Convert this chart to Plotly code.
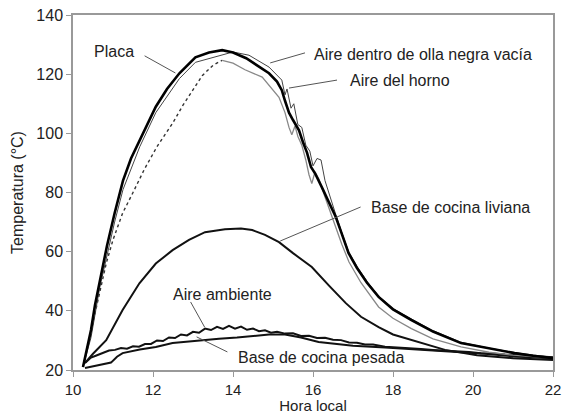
import plotly.graph_objects as go

# Placa (plate) temperature
hora_placa = [10.25, 10.3, 10.38, 10.45, 10.55, 10.67, 10.85, 11.04, 11.25, 11.45, 11.67, 11.87,
              12.07, 12.35, 12.66, 13.06, 13.4, 13.73, 14.0, 14.33, 14.6, 14.9, 15.1, 15.22, 15.3,
              15.4, 15.5, 15.65, 15.75, 15.85, 15.95, 16.05, 16.22, 16.4, 16.57, 16.72, 16.89, 17.1,
              17.35, 17.64, 18.0, 18.46, 19.0, 19.7, 20.4, 21.04, 21.5, 22.0]
temp_placa = [21, 24, 29, 33.5, 42, 50.5, 62, 73, 84, 91.5, 97.7, 103.5,
              109, 115, 120.3, 125.7, 127.3, 128.1, 127.3, 125.4, 123, 120.3, 117.5, 114.6, 111,
              107, 104.5, 101, 97, 93.5, 88.6, 86.5, 81.8, 76.5, 71.7, 66, 59.5, 54.5,
              49.5, 44.7, 40.5, 36.9, 33, 29.1, 27.2, 25.7, 24.8, 24]

# Air inside the empty black pot
hora_olla = [10.25, 10.45, 10.67, 11.04, 11.25, 11.67, 12.07, 12.66, 13.06, 13.73, 14.0, 14.4,
             14.9, 15.22, 15.3, 15.35, 15.45, 15.52, 15.62, 15.72, 15.82, 15.92, 16.0, 16.1,
             16.2, 16.3, 16.4, 16.57, 16.72, 16.89, 17.1, 17.35, 17.64, 18.0, 18.46, 19.0, 19.7,
             20.4, 21.04, 21.5, 22.0]
temp_olla = [21, 31, 48, 70, 81, 95.5, 107, 118.5, 124, 126.5, 127.5, 126.4,
             122.4, 118, 113, 115, 108.5, 110, 103, 102, 96, 94, 89, 91.5,
             91, 84, 79.5, 72.5, 66.5, 60, 55, 50, 45, 40.8, 37.2, 33.3, 29.4,
             27.4, 25.9, 25, 24.2]

# Oven air
hora_horno = [10.25, 10.4, 10.55, 10.67, 10.83, 11.0, 11.24, 11.5, 11.79, 12.1, 12.49, 12.75,
              12.99, 13.23, 13.5, 13.73, 14.0, 14.3, 14.73, 15.15, 15.3, 15.4, 15.47, 15.55,
              15.62, 15.72, 15.82, 15.9, 15.97, 16.05, 16.15, 16.3, 16.5, 16.72, 16.9, 17.2, 17.64,
              18.0, 18.46, 19.0, 19.7, 20.4, 21.0, 21.5, 22.0]
temp_horno = [21, 30, 40, 47, 56, 64, 73, 80, 88, 95.5, 103.4, 109.5,
              114.6, 119.5, 123, 124.7, 123.7, 121.5, 119, 112.2, 107, 102, 99.5, 102.5,
              99, 96, 91, 86, 83, 87, 84.5, 78.5, 71, 62.5, 56.5, 49.5, 41.3,
              37.5, 34, 30.5, 27.8, 26, 25, 24.5, 24]
pico_horno = 15  # index of the oven-air peak (dotted before, solid after)

# Light stove base
hora_liviana = [10.3, 10.5, 10.83, 11.0, 11.24, 11.66, 12.07, 12.49, 12.9, 13.3, 13.8, 14.2,
                14.48, 14.8, 15.15, 15.5, 15.97, 16.4, 16.82, 17.2, 17.64, 18.0, 18.46, 19.3,
                20.1, 21.0, 22.0]
temp_liviana = [22.4, 25.5, 30.1, 34.5, 40.3, 49.3, 56, 60.5, 64, 66.6, 67.6, 67.8,
                67.3, 65.7, 63.2, 59.5, 54.8, 48.5, 42.6, 38, 34.5, 32, 30.1, 26.8,
                25, 24, 23.4]

# Ambient air
hora_ambiente = [10.3, 10.45, 10.6, 10.75, 10.9, 11.05, 11.2, 11.35, 11.5, 11.65, 11.8, 11.95,
                 12.1, 12.25, 12.4, 12.55, 12.7, 12.85, 13.0, 13.15, 13.3, 13.45, 13.6, 13.75,
                 13.9, 14.05, 14.2, 14.35, 14.5, 14.65, 14.8, 14.95, 15.1, 15.3, 15.5, 15.7,
                 15.9, 16.1, 16.3, 16.5, 16.7, 16.9, 17.1, 17.3, 17.5, 17.8, 18.1, 18.4, 18.7,
                 19.0, 19.3, 19.6, 19.9, 20.2, 20.5, 20.8, 21.1, 21.4, 21.7, 22.0]
temp_ambiente = [22.4, 24.2, 25.0, 25.8, 26.6, 26.8, 27.4, 27.2, 28.0, 27.9, 28.8, 28.8,
                 30.0, 29.8, 31.0, 30.8, 32.0, 31.7, 32.9, 32.6, 34.0, 33.5, 34.6, 33.9,
                 34.9, 34.0, 34.7, 33.6, 34.0, 33.1, 33.4, 32.6, 32.9, 32.3, 32.4, 31.5,
                 31.6, 30.8, 30.9, 30.2, 30.1, 29.3, 29.2, 28.6, 28.6, 27.9, 27.7, 27.3, 27.1,
                 26.8, 26.6, 26.2, 26.1, 25.7, 25.6, 25.2, 25.1, 24.8, 24.6, 24.3]

# Heavy stove base
hora_pesada = [10.3, 10.6, 10.95, 11.1, 11.24, 11.67, 12.07, 12.49, 12.9, 13.3, 13.65, 14.1,
               14.48, 14.9, 15.3, 15.7, 16.14, 16.6, 17.0, 17.8, 18.5, 19.2, 19.7, 20.3, 21.0,
               21.5, 22.0]
temp_pesada = [20.7, 21.5, 22.5, 24.5, 25.7, 26.9, 27.8, 29.1, 29.7, 30.1, 30.6, 31,
               31.5, 32, 32, 31, 29.5, 28.7, 28.2, 27.6, 27, 26.5, 26.1, 25.5, 24.6,
               24.2, 24]

# Labels with their leader lines: (text, text x, text y, line start, line end)
etiquetas = [
    ("Placa", 11.02, 127.5, (11.79, 126.2), (12.56, 120.4)),
    ("Aire dentro de olla negra vacía", 18.74, 126.5, (15.8, 127.2), (14.93, 123.8)),
    ("Aire del horno", 18.17, 118.0, (16.6, 118.0), (15.4, 115.3)),
    ("Base de cocina liviana", 19.43, 74.8, (17.19, 75.1), (15.18, 63.6)),
    ("Aire ambiente", 13.73, 45.4, (12.94, 43.0), (13.29, 34.5)),
    ("Base de cocina pesada", 16.2, 24.1, (13.09, 31.2), (13.86, 26.1)),
]

FONT = "Liberation Sans, Arial, sans-serif"
TAM = 16

fig = go.Figure()

fig.add_trace(go.Scatter(x=hora_pesada, y=temp_pesada, mode="lines",
                         line=dict(color="#111", width=2), name="Base de cocina pesada"))
fig.add_trace(go.Scatter(x=hora_ambiente, y=temp_ambiente, mode="lines",
                         line=dict(color="#111", width=2), name="Aire ambiente"))
fig.add_trace(go.Scatter(x=hora_liviana, y=temp_liviana, mode="lines",
                         line=dict(color="#111", width=2), name="Base de cocina liviana"))
fig.add_trace(go.Scatter(x=hora_horno[:pico_horno + 1], y=temp_horno[:pico_horno + 1], mode="lines",
                         line=dict(color="#333", width=1.4, dash="dot"), name="Aire del horno"))
fig.add_trace(go.Scatter(x=hora_horno[pico_horno:], y=temp_horno[pico_horno:], mode="lines",
                         line=dict(color="#888", width=1.3), name="Aire del horno",
                         showlegend=False))
fig.add_trace(go.Scatter(x=hora_olla, y=temp_olla, mode="lines",
                         line=dict(color="#444", width=1), name="Aire dentro de olla negra vacía"))
fig.add_trace(go.Scatter(x=hora_placa, y=temp_placa, mode="lines",
                         line=dict(color="#000", width=2.6), name="Placa"))

for texto, tx, ty, p0, p1 in etiquetas:
    fig.add_annotation(x=tx, y=ty, text=texto, showarrow=False,
                       font=dict(family=FONT, size=TAM, color="#222"))
    fig.add_shape(type="line", x0=p0[0], y0=p0[1], x1=p1[0], y1=p1[1],
                  line=dict(color="#555", width=1))

eje = dict(showline=True, linecolor="#999", linewidth=1.5, mirror=True, showgrid=False,
           zeroline=False, ticks="outside", ticklen=5, tickcolor="#999",
           ticklabeloverflow="allow")

fig.update_layout(
    width=562, height=414,
    margin=dict(l=73, r=7, t=15, b=44),
    paper_bgcolor="white", plot_bgcolor="white",
    showlegend=False,
    font=dict(family=FONT, size=TAM, color="#222"),
    xaxis=dict(range=[10, 22], dtick=2, tick0=10, automargin=False,
               tickfont=dict(family=FONT, size=15, color="#222"),
               title=dict(text="Hora local", font=dict(family=FONT, size=15)), **eje),
    yaxis=dict(range=[20, 140], dtick=20, tick0=20, automargin=True,
               tickfont=dict(family=FONT, size=TAM, color="#222"),
               title=dict(text="Temperatura (°C)", font=dict(family=FONT, size=TAM), standoff=9),
               **eje),
)

fig.write_html("out.html")
